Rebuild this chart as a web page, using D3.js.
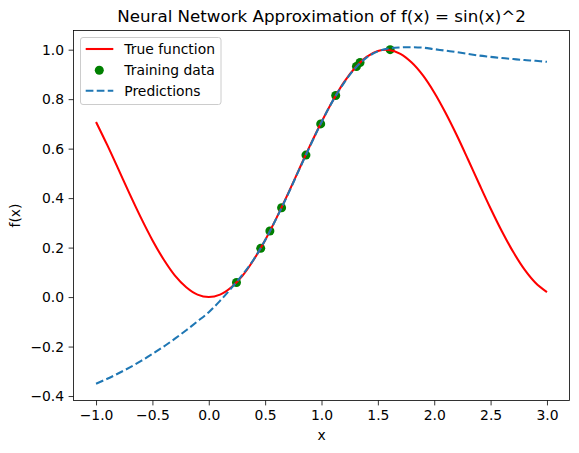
<!DOCTYPE html>
<html>
<head>
<meta charset="utf-8">
<script src="https://cdn.jsdelivr.net/npm/d3@7"></script>
<style>
  body { margin: 0; background: #fff; }
  text { font-family: "DejaVu Sans", sans-serif; fill: #000; }
</style>
</head>
<body>
<div id="chart"></div>
<script>
// x grid for the curves
var xs = [-1.0, -0.9, -0.8, -0.7, -0.6, -0.5, -0.4, -0.3, -0.2, -0.1, 0.0,
          0.1, 0.2, 0.3, 0.4, 0.5, 0.6, 0.7, 0.8, 0.9, 1.0,
          1.1, 1.2, 1.3, 1.4, 1.5, 1.6, 1.7, 1.8, 1.9, 2.0,
          2.1, 2.2, 2.3, 2.4, 2.5, 2.6, 2.7, 2.8, 2.9, 3.0];

// true function values
var trueY = [0.708, 0.614, 0.515, 0.415, 0.319, 0.230, 0.152, 0.087, 0.040, 0.010, 0.000,
             0.010, 0.040, 0.087, 0.152, 0.230, 0.319, 0.415, 0.515, 0.614, 0.708,
             0.794, 0.869, 0.928, 0.971, 0.995, 0.999, 0.983, 0.948, 0.896, 0.827,
             0.745, 0.654, 0.556, 0.456, 0.358, 0.266, 0.183, 0.112, 0.057, 0.020];

// network predictions
var predY = [-0.350, -0.330, -0.308, -0.284, -0.258, -0.230, -0.200, -0.168, -0.134, -0.098, -0.061,
             -0.015, 0.036, 0.091, 0.153, 0.230, 0.318, 0.413, 0.513, 0.612, 0.707,
             0.793, 0.866, 0.926, 0.968, 0.993, 1.005, 1.009, 1.010, 1.008, 1.002,
             0.996, 0.990, 0.983, 0.976, 0.971, 0.966, 0.962, 0.958, 0.955, 0.951];

// training samples
var trainX = [0.246, 0.461, 0.542, 0.646, 0.862, 0.993, 1.126, 1.310, 1.342, 1.609];
var trainY = [0.059, 0.197, 0.267, 0.361, 0.574, 0.700, 0.815, 0.932, 0.948, 1.000];

var xTicks = [-1.0, -0.5, 0.0, 0.5, 1.0, 1.5, 2.0, 2.5, 3.0];
var yTicks = [-0.4, -0.2, 0.0, 0.2, 0.4, 0.6, 0.8, 1.0];

(function() {
    var width = 579,
        height = 453;
    var pl = 73.5, pr = 569.5, pt = 30.5, pb = 400.5;
    var lw = 2.08,
        dash = "7.7,3.33",
        dotR = 4.5;

    var svg = d3.select("#chart")
        .append("svg")
        .attr("width", width)
        .attr("height", height);

    var x = d3.scaleLinear().domain([-1.2, 3.2]).range([pl, pr]);
    var y = d3.scaleLinear().domain([-0.418, 1.0775]).range([pb, pt]);

    var fmt = function(d) { return d3.format(".1f")(d).replace("-", "\u2212"); };

    function styleAxis(g) {
        g.select(".domain").remove();
        g.selectAll("line").attr("stroke", "#000").attr("stroke-width", 0.8);
        g.selectAll("text").attr("font-size", "13.9px").attr("font-family", "DejaVu Sans, sans-serif").attr("fill", "#000");
    }

    svg.append("g")
        .attr("transform", "translate(0," + pb + ")")
        .call(d3.axisBottom(x).tickValues(xTicks).tickFormat(fmt).tickSize(4.9).tickPadding(4.5))
        .call(styleAxis);

    svg.append("g")
        .attr("transform", "translate(" + pl + ",0)")
        .call(d3.axisLeft(y).tickValues(yTicks).tickFormat(fmt).tickSize(4.9).tickPadding(4.5))
        .call(styleAxis);

    svg.append("clipPath").attr("id", "clip")
        .append("rect")
        .attr("x", pl).attr("y", pt)
        .attr("width", pr - pl).attr("height", pb - pt);

    var plot = svg.append("g").attr("clip-path", "url(#clip)");

    var line = d3.line()
        .x(function(d) { return x(d[0]); })
        .y(function(d) { return y(d[1]); })
        .curve(d3.curveCatmullRom);

    // scatter sits under the lines, like matplotlib's zorder
    plot.selectAll(".train")
        .data(trainX.map(function(v, i) { return [v, trainY[i]]; }))
        .enter().append("circle")
        .attr("class", "train")
        .attr("cx", function(d) { return x(d[0]); })
        .attr("cy", function(d) { return y(d[1]); })
        .attr("r", dotR)
        .attr("fill", "green");

    plot.append("path")
        .datum(xs.map(function(v, i) { return [v, trueY[i]]; }))
        .attr("d", line)
        .attr("fill", "none")
        .attr("stroke", "red")
        .attr("stroke-width", lw);

    plot.append("path")
        .datum(xs.map(function(v, i) { return [v, predY[i]]; }))
        .attr("d", line)
        .attr("fill", "none")
        .attr("stroke", "#1f77b4")
        .attr("stroke-width", lw)
        .attr("stroke-dasharray", dash);

    // frame
    svg.append("rect")
        .attr("x", pl).attr("y", pt)
        .attr("width", pr - pl).attr("height", pb - pt)
        .attr("fill", "none")
        .attr("stroke", "#000")
        .attr("stroke-width", 0.8);

    // titles
    svg.append("text")
        .attr("x", (pl + pr) / 2)
        .attr("y", 21.5)
        .attr("text-anchor", "middle")
        .attr("font-size", "16.7px")
        .text("Neural Network Approximation of f(x) = sin(x)^2");

    svg.append("text")
        .attr("x", (pl + pr) / 2)
        .attr("y", 440)
        .attr("text-anchor", "middle")
        .attr("font-size", "13.9px")
        .text("x");

    svg.append("text")
        .attr("transform", "translate(20," + ((pt + pb) / 2) + ") rotate(-90)")
        .attr("text-anchor", "middle")
        .attr("font-size", "13.9px")
        .text("f(x)");

    // legend
    var legend = svg.append("g");
    legend.append("rect")
        .attr("x", 80.5).attr("y", 37.5)
        .attr("width", 140.5).attr("height", 67)
        .attr("rx", 2.5)
        .attr("fill", "#fff")
        .attr("fill-opacity", 0.8)
        .attr("stroke", "#ccc")
        .attr("stroke-width", 1);

    var rows = [49, 70.3, 90.7];
    legend.append("line")
        .attr("x1", 85.7).attr("x2", 113.3)
        .attr("y1", rows[0]).attr("y2", rows[0])
        .attr("stroke", "red").attr("stroke-width", lw);
    legend.append("circle")
        .attr("cx", 99.3).attr("cy", rows[1]).attr("r", dotR)
        .attr("fill", "green");
    legend.append("line")
        .attr("x1", 85.7).attr("x2", 113.3)
        .attr("y1", rows[2]).attr("y2", rows[2])
        .attr("stroke", "#1f77b4").attr("stroke-width", lw)
        .attr("stroke-dasharray", dash);

    var labels = ["True function", "Training data", "Predictions"];
    legend.selectAll(".lab")
        .data(labels)
        .enter().append("text")
        .attr("class", "lab")
        .attr("x", 124.3)
        .attr("y", function(d, i) { return rows[i] + 5; })
        .attr("font-size", "13.9px")
        .text(function(d) { return d; });
})();
</script>
</body>
</html>
